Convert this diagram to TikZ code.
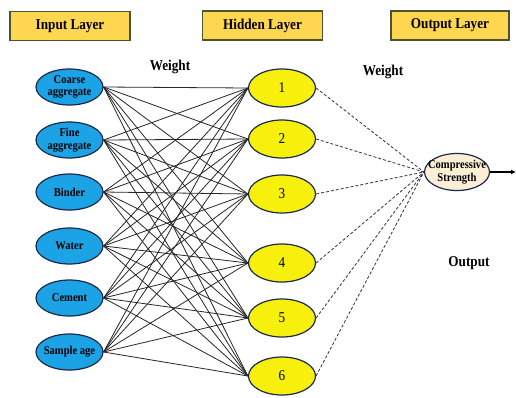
\documentclass[tikz,border=0pt]{standalone}
\usepackage{fontspec}
\setmainfont{Liberation Serif}
\newfontfamily\narrowserif{Liberation Serif}[FakeStretch=0.88]
\usetikzlibrary{arrows.meta,shapes.geometric}
\definecolor{inblue}{HTML}{1BA3E6}
\definecolor{inborder}{HTML}{1A2A4A}
\definecolor{hidyellow}{HTML}{F6F00C}
\definecolor{hdrfill}{HTML}{FFD650}
\definecolor{hdrborder}{HTML}{4A5530}
\definecolor{outfill}{HTML}{FCEFD6}
\tikzset{
  hdr/.style={draw=hdrborder, line width=1.6pt, fill=hdrfill, minimum width=120pt, minimum height=29pt, inner sep=0pt, font=\narrowserif\fontsize{15}{16}\selectfont\bfseries},
  innode/.style={ellipse, draw=inborder, line width=1.2pt, fill=inblue, minimum width=67pt, minimum height=36pt, inner xsep=-5pt, inner ysep=-2pt, align=center, font=\narrowserif\fontsize{12}{12.5}\selectfont\bfseries},
  hidnode/.style={ellipse, draw=inborder, line width=1.2pt, fill=hidyellow, minimum width=67pt, minimum height=38pt, inner sep=0pt, font=\narrowserif\fontsize{15}{16}\selectfont},
  outnode/.style={ellipse, draw=inborder, line width=1.2pt, fill=outfill, minimum width=65pt, minimum height=37pt, inner xsep=-9pt, inner ysep=-2pt, align=center, font=\narrowserif\fontsize{12}{12.5}\selectfont\bfseries},
  wlabel/.style={font=\narrowserif\fontsize{15}{16}\selectfont\bfseries},
  link/.style={line width=0.8pt, black!85},
  dlink/.style={line width=0.8pt, black!80, dash pattern=on 3pt off 2pt},
}
\begin{document}
\begin{tikzpicture}[x=1pt,y=-1pt]
\useasboundingbox (0,0) rectangle (516,397);
% headers
\node[hdr] (hin) at (70,26) {Input Layer};
\node[hdr] (hhid) at (262.5,25.5) {Hidden Layer};
\node[hdr, minimum width=118pt] (hout) at (450,25.5) {Output Layer};
% labels
\node[wlabel] (w1) at (170,67) {Weight};
\node[wlabel] (w2) at (383,72) {Weight};
\node[wlabel] (olab) at (469,263) {Output};
% input nodes
\node[innode] (i1) at (69.5,87) {Coarse\\aggregate};
\node[innode] (i2) at (69.5,140) {Fine\\aggregate};
\node[innode] (i3) at (69.5,192) {Binder};
\node[innode] (i4) at (69.5,246) {Water};
\node[innode] (i5) at (69.5,298) {Cement};
\node[innode] (i6) at (69.5,352) {Sample age};
% hidden nodes
\node[hidnode] (h1) at (282,88) {1};
\node[hidnode] (h2) at (282,139) {2};
\node[hidnode] (h3) at (282,194) {3};
\node[hidnode] (h4) at (282,263) {4};
\node[hidnode] (h5) at (282,318) {5};
\node[hidnode] (h6) at (282,376) {6};
% output node
\node[outnode] (o) at (457,172) {Compressive\\Strength};
\coordinate (oend) at (516,172);
% connections
\foreach \i in {1,...,6}{
  \foreach \h in {1,...,6}{
    \draw[link] (i\i.east) -- (h\h.west);
  }
  \draw[dlink] (h\i.east) -- (o.west);
}
\draw[line width=1.2pt, -{Latex[length=5pt,width=5pt]}] (o.east) -- (oend);
\end{tikzpicture}
\end{document}
